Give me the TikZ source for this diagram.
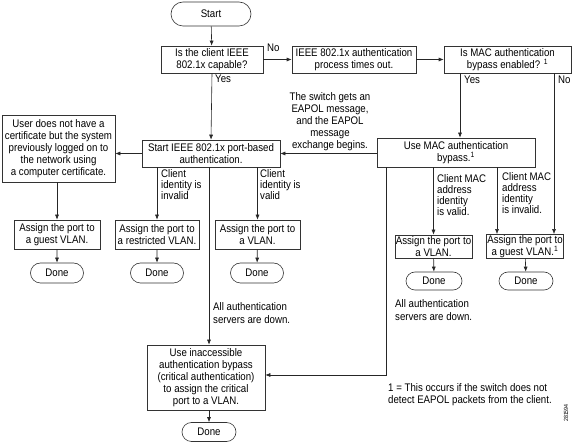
\documentclass[tikz,border=0pt]{standalone}
\usepackage{fontspec}
\setmainfont{Liberation Sans}[FakeStretch=0.88]
\usetikzlibrary{shapes.misc,arrows.meta}
\tikzset{box/.style={
		draw=black!80,
		line width=0.6pt,
		rectangle,
		align=center,
		inner sep=1pt},
	term/.style={
		draw=black!80,
		line width=0.6pt,
		rounded rectangle,
		inner sep=1pt},
	lbl/.style={
		align=left,
		anchor=north west,
		inner sep=0pt,
		font=\fontsize{11}{11}\selectfont},
	arr/.style={
		draw=black!85,
		line width=0.6pt,
		-{Latex[length=5pt,width=4pt]}}
	}

\begin{document}
\begin{tikzpicture}[x=1pt,y=-1pt,font=\fontsize{11}{12}\selectfont]
	\useasboundingbox (0,0) rectangle (576,443);
	% top row
	\node [term,minimum width=82pt,minimum height=24pt] (start) at (211,14) {Start};
	\node [box,minimum width=102pt,minimum height=27pt] (capable) at (212,59.5) {Is the client IEEE\\802.1x capable?};
	\node [box,minimum width=124pt,minimum height=27pt] (timeout) at (354,59.5) {IEEE 802.1x authentication\\process times out.};
	\node [box,minimum width=127pt,minimum height=27pt] (mabon) at (507.5,59.5) {Is MAC authentication\\bypass enabled? \textsuperscript{1}};
	% middle row
	\node [box,minimum width=138pt,minimum height=27pt] (dotx) at (211,153.5) {Start IEEE 802.1x port-based\\authentication.};
	\node [box,minimum width=113pt,minimum height=67pt] (cert) at (58.5,148.5) {User does not have a\\certificate but the system\\previously logged on to\\the network using\\a computer certificate.};
	\node [box,minimum width=158pt,minimum height=29pt] (mac) at (456,152.5) {Use MAC authentication\\bypass.\textsuperscript{1}};
	% assign boxes
	\node [box,minimum width=86pt,minimum height=29pt] (guesta) at (57,234.5) {Assign the port to\\a guest VLAN.};
	\node [box,minimum width=84pt,minimum height=29pt] (restr) at (157,234.5) {Assign the port to\\a restricted VLAN.};
	\node [box,minimum width=85pt,minimum height=29pt] (vlana) at (257.5,234.5) {Assign the port to\\a VLAN.};
	\node [box,minimum width=77pt,minimum height=23pt] (vlanb) at (433.5,246.5) {Assign the port to\\a VLAN.};
	\node [box,minimum width=76pt,minimum height=23pt] (guestb) at (525,246.5) {Assign the port to\\a guest VLAN.\textsuperscript{1}};
	\node [box,minimum width=118pt,minimum height=65pt] (crit) at (206,377.5) {Use inaccessible\\authentication bypass\\(critical authentication)\\to assign the critical\\port to a VLAN.};
	% done
	\node [term,minimum width=55pt,minimum height=20pt] (donea) at (57,273) {Done};
	\node [term,minimum width=55pt,minimum height=20pt] (doneb) at (157,273) {Done};
	\node [term,minimum width=55pt,minimum height=20pt] (donec) at (257,273) {Done};
	\node [term,minimum width=58pt,minimum height=18pt] (doned) at (434,281) {Done};
	\node [term,minimum width=56pt,minimum height=18pt] (donee) at (526,281) {Done};
	\node [term,minimum width=56pt,minimum height=19pt] (donef) at (209,432) {Done};
	% arrows
	\draw [arr] (start) -- (capable);
	\draw [arr] (capable) -- (timeout);
	\draw [arr] (timeout) -- (mabon);
	\draw [arr] (capable.south) -- (dotx.north);
	\draw [arr] ([xshift=4pt]mac.north |- mabon.south) -- ([xshift=4pt]mac.north);
	\draw [arr] ([xshift=29pt]guestb.north |- mabon.south) -- ([xshift=29pt]guestb.north);
	\draw [arr] (mac.west |- dotx.east) -- (dotx.east);
	\draw [arr] (dotx.west) -- (cert.east |- dotx.west);
	\draw [arr] (guesta.north |- cert.south) -- (guesta.north);
	\draw [arr] (restr.north |- dotx.south) -- (restr.north);
	\draw [arr] (vlana.north |- dotx.south) -- (vlana.north);
	\draw [arr] ([xshift=-2pt]dotx.south) -- ([xshift=-2pt]dotx.south |- crit.north);
	\draw [arr] (vlanb.north |- mac.south) -- (vlanb.north);
	\draw [arr] ([xshift=-28pt]guestb.north |- mac.south) -- ([xshift=-28pt]guestb.north);
	\draw [arr] ([xshift=-70pt]mac.south) -- ([xshift=-70pt,yshift=2.5pt]mac.south |- crit.east) -- ([yshift=2.5pt]crit.east);
	\draw [arr] (guesta) -- (donea);
	\draw [arr] (restr) -- (doneb);
	\draw [arr] (vlana) -- (donec);
	\draw [arr] (vlanb) -- (doned);
	\draw [arr] (guestb) -- (donee);
	\draw [arr] (crit.south -| donef) -- (donef.north);
	% labels
	\node [lbl] (no1) at (267,44) {No};
	\node [lbl] (yes1) at (215,75) {Yes};
	\node [lbl] (yes2) at (464,76) {Yes};
	\node [lbl] (no2) at (558,76) {No};
	\node [align=center,inner sep=0pt] (eapol) at (330,122) {The switch gets an\\EAPOL message,\\and the EAPOL\\message\\exchange begins.};
	\node [lbl] (inval) at (161,169) {Client\\identity is\\invalid};
	\node [lbl] (val) at (260,169) {Client\\identity is\\valid};
	\node [lbl] (macval) at (437,174) {Client MAC\\address\\identity\\is valid.};
	\node [lbl] (macinv) at (502,172) {Client MAC\\address\\identity\\is invalid.};
	\node [lbl,font=\fontsize{11}{13}\selectfont] (downa) at (213,302) {All authentication\\servers are down.};
	\node [lbl,font=\fontsize{11}{13}\selectfont] (downb) at (395,299) {All authentication\\servers are down.};
	\node [lbl,font=\fontsize{11}{12}\selectfont] (note) at (388,383) {1 = This occurs if the switch does not\\detect EAPOL packets from the client.};
	\node [rotate=90,inner sep=0pt,font=\fontsize{6}{6}\selectfont] (fig) at (566,413) {281594};
\end{tikzpicture}
\end{document}
